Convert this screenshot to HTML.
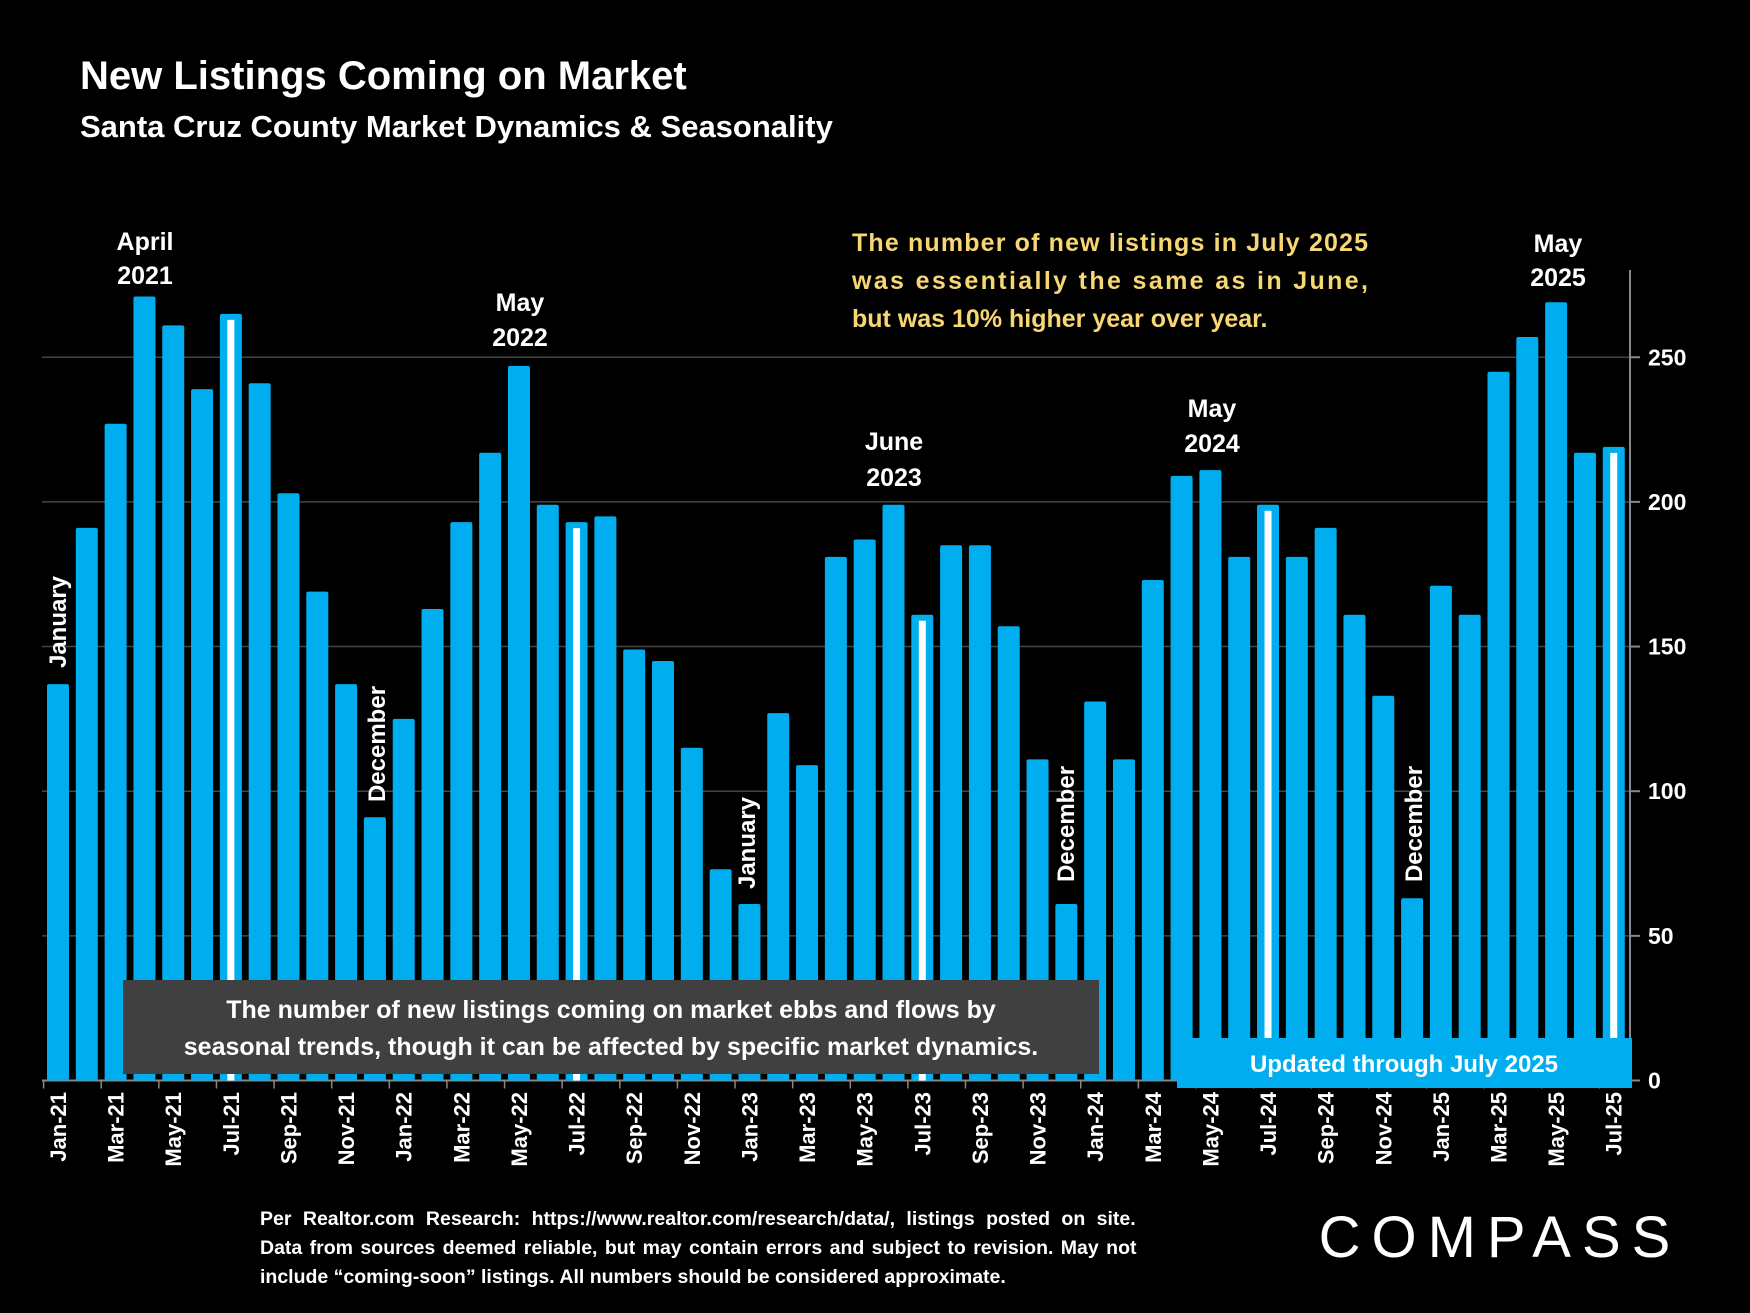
<!DOCTYPE html>
<html><head><meta charset="utf-8"><style>
html,body{margin:0;padding:0;background:#000;}
svg{display:block;font-family:"Liberation Sans",sans-serif;}
</style></head><body>
<svg id="chart" width="1750" height="1313" viewBox="0 0 1750 1313">
<rect width="1750" height="1313" fill="#000"/>
<text x="80" y="89" fill="#fff" font-size="40" font-weight="bold">New Listings Coming on Market</text>
<text x="80" y="137" fill="#fff" font-size="31" font-weight="bold">Santa Cruz County Market Dynamics &amp; Seasonality</text>
<g id="grid"></g>
<g id="bars"></g>
<g id="xlabels"></g>
<g id="ylabels"></g>
<g fill="#fff" font-weight="bold" font-size="25" text-anchor="middle">
<text x="145" y="250">April</text>
<text x="145" y="284">2021</text>
<text x="520" y="311">May</text>
<text x="520" y="346">2022</text>
<text x="894" y="450">June</text>
<text x="894" y="486">2023</text>
<text x="1212" y="417">May</text>
<text x="1212" y="452">2024</text>
<text x="1558" y="252">May</text>
<text x="1558" y="286">2025</text>
<text transform="translate(66,622) rotate(-90)" font-size="24">January</text>
<text transform="translate(385,744) rotate(-90)" font-size="24">December</text>
<text transform="translate(755,843) rotate(-90)" font-size="24">January</text>
<text transform="translate(1074,824) rotate(-90)" font-size="24">December</text>
<text transform="translate(1422,824) rotate(-90)" font-size="24">December</text>
</g>
<g fill="#f7d774" font-weight="bold" font-size="25">
<text x="852" y="251" textLength="516" lengthAdjust="spacing">The number of new listings in July 2025</text>
<text x="852" y="289" textLength="516" lengthAdjust="spacing">was essentially the same as in June,</text>
<text x="852" y="327">but was 10% higher year over year.</text>
</g>
<rect x="123" y="980" width="976" height="94" fill="#404040"/>
<text x="611" y="1018" fill="#fff" font-size="25" font-weight="bold" text-anchor="middle">The number of new listings coming on market ebbs and flows by</text>
<text x="611" y="1055" fill="#fff" font-size="25" font-weight="bold" text-anchor="middle">seasonal trends, though it can be affected by specific market dynamics.</text>
<rect x="1177" y="1038" width="455" height="50" fill="#00aeef"/>
<text x="1404" y="1072" fill="#fff" font-size="24" font-weight="bold" text-anchor="middle">Updated through July 2025</text>
<g fill="#fff" font-size="19.5" font-weight="bold">
<text x="260" y="1225" word-spacing="6">Per Realtor.com Research:  https://www.realtor.com/research/data/, listings posted on site.</text>
<text x="260" y="1254" word-spacing="2">Data from sources deemed reliable, but may contain errors and subject to revision. May not</text>
<text x="260" y="1283">include “coming-soon” listings. All numbers should be considered approximate.</text>
</g>
<text x="1500" y="1257" fill="#fff" font-size="58" text-anchor="middle" letter-spacing="11">COMPASS</text>
<script>
const months = ["Jan","Feb","Mar","Apr","May","Jun","Jul","Aug","Sep","Oct","Nov","Dec"];
const years = ["21","22","23","24","25"];
const values = [137,191,227,271,261,239,265,241,203,169,137,91,
125,163,193,217,247,199,193,195,149,145,115,73,
61,127,109,181,187,199,161,185,185,157,111,61,
131,111,173,209,211,181,199,181,191,161,133,63,
171,161,245,257,269,217,219];
const yTicks = [0,50,100,150,200,250];
const categories = values.map((v,i)=>months[i%12]+"-"+years[Math.floor(i/12)]);

const NS="http://www.w3.org/2000/svg";
const y0=1080.5, pxPerUnit=2.893, x0=58, step=28.81, bw=22, axisX=1630;
const yScale=v=>y0-v*pxPerUnit;
const xScale=i=>x0+i*step;
function mk(tag,attrs,parent){const e=document.createElementNS(NS,tag);for(const k in attrs)e.setAttribute(k,attrs[k]);parent.appendChild(e);return e;}
const grid=document.getElementById('grid'),bars=document.getElementById('bars'),xl=document.getElementById('xlabels'),yl=document.getElementById('ylabels');
yTicks.forEach(t=>{
  if(t>0){const l=mk('line',{x1:42,x2:axisX,y1:yScale(t),y2:yScale(t),stroke:'#444','stroke-width':1.5},grid);
  
  }
  const tk=mk('line',{x1:axisX,x2:axisX+10,y1:yScale(t),y2:yScale(t),stroke:'#888','stroke-width':2},grid);
  
  
  const tx=mk('text',{x:1648,y:yScale(t)+8,fill:'#fff','font-size':23,'font-weight':'bold'},yl);
  tx.textContent=t;
  
  
});
const ax=mk('line',{x1:axisX,x2:axisX,y1:270,y2:y0,stroke:'#888','stroke-width':2},grid);


values.forEach((v,i)=>{
  const cx=xScale(i);
  const r=mk('rect',{x:cx-bw/2,y:yScale(v),width:bw,height:y0-yScale(v),fill:'#00aeef',rx:2},bars);
  
  
  if(i%12===6){
    const s=mk('rect',{x:cx-3.5,y:yScale(v)+6,width:7,height:y0-yScale(v)-6,fill:'#fff'},bars);
    
    
  }
  if(i%2===0){
    const t=mk('text',{transform:`translate(${cx+8},1092) rotate(-90)`,fill:'#fff','font-size':22,'font-weight':'bold','text-anchor':'end'},xl);
    t.textContent=categories[i];
    
    
    const tk=mk('line',{x1:cx-step/2,x2:cx-step/2,y1:y0,y2:y0+8,stroke:'#888','stroke-width':1.5},grid);
    
    
  }
});
const bl=mk('line',{x1:42,x2:axisX,y1:y0,y2:y0,stroke:'#888','stroke-width':2},grid);


</script>
</svg>
</body></html>
